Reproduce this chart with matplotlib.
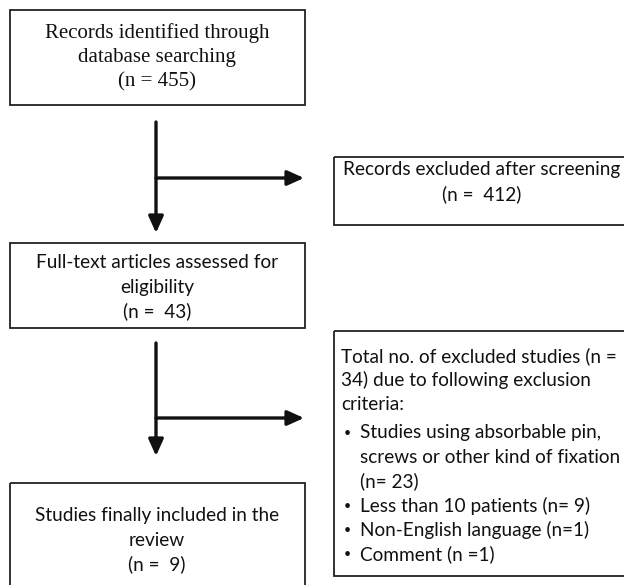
import matplotlib
matplotlib.use("Agg")
import matplotlib.pyplot as plt
from matplotlib.patches import Rectangle

# ---- content ----
box1_lines = ["Records identified through", "database searching", "(n = 455)"]
box2_lines = ["Records excluded after screening", "(n =  412)"]
box3_lines = ["Full-text articles assessed for", "eligibility", "(n =  43)"]
box4_intro = ["Total no. of excluded studies (n =", "34) due to following exclusion", "criteria:"]
box4_bullets = [["Studies using absorbable pin,", "screws or other kind of fixation", "(n= 23)"],
                ["Less than 10 patients (n= 9)"],
                ["Non-English language (n=1)"],
                ["Comment (n =1)"]]
box5_lines = ["Studies finally included in the", "review", "(n =  9)"]

W, H = 624, 585
fig = plt.figure(figsize=(W / 100, H / 100), dpi=100)
ax = fig.add_axes([0, 0, 1, 1])
ax.set_xlim(0, W)
ax.set_ylim(H, 0)
ax.axis("off")

serif = ["Liberation Serif", "DejaVu Serif"]
sans = ["Lato", "Open Sans", "DejaVu Sans"]
fs = 13.7
lw_box = 1.3
lh = 24.3

def box(x0, y0, x1, y1):
    ax.add_patch(Rectangle((x0, y0), x1 - x0, y1 - y0, fill=False,
                           edgecolor="#222222", lw=lw_box))

def centered(lines, cx, y_first, family, size):
    for i, t in enumerate(lines):
        ax.text(cx, y_first + i * lh, t, ha="center", va="center",
                family=family, fontsize=size, color="#111111")

def arrow(x0, y0, x1, y1):
    ax.annotate("", xy=(x1, y1), xytext=(x0, y0),
                arrowprops=dict(arrowstyle="-|>,head_length=1.0,head_width=0.45",
                                lw=2.4, color="#111111", shrinkA=0, shrinkB=0))

# box 1
box(10, 10, 305, 105)
centered(box1_lines, 157, 33, serif, 15)

# arrows 1
arrow(156, 122, 156, 233)
arrow(156, 178, 304, 178)

# box 2
box(334, 157, 640, 225)
centered(box2_lines, 482, 170, sans, fs)

# box 3
box(10, 243, 305, 328)
centered(box3_lines, 157, 263, sans, fs)

# arrows 2
arrow(156, 343, 156, 456)
arrow(156, 418, 304, 418)

# box 4
box(334, 331, 640, 576)
y = 356
for t in box4_intro:
    ax.text(341, y, t, ha="left", va="center", family=sans, fontsize=fs, color="#111111")
    y += lh
y += 4
for item in box4_bullets:
    ax.text(344, y, "\u2022", ha="left", va="center", family=sans, fontsize=9, color="#111111")
    for t in item:
        ax.text(360, y, t, ha="left", va="center", family=sans, fontsize=fs, color="#111111")
        y += lh

# box 5
box(10, 483, 305, 600)
centered(box5_lines, 157, 516, sans, fs)

fig.savefig("out.png", dpi=100)
